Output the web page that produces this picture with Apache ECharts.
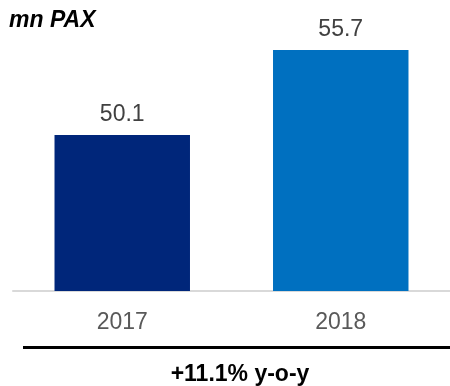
<!DOCTYPE html>
<html>
<head>
<meta charset="utf-8">
<script src="https://cdn.jsdelivr.net/npm/echarts@6/dist/echarts.min.js"></script>
<style>html,body{margin:0;padding:0;background:#fff}#c{width:450px;height:386px}</style>
</head>
<body>
<div id="c"></div>
<script>
var categories = ['2017', '2018'];
var values = [50.1, 55.7];
var barColors = ['#00267A', '#0070C0'];
var unitLabel = 'mn PAX';
var growthLabel = '+11.1% y-o-y';

var chart = echarts.init(document.getElementById('c'), null, {renderer: 'canvas'});
chart.setOption({
  animation: false,
  grid: {left: 13, right: 0, top: 0, bottom: 95, containLabel: false},
  xAxis: {
    type: 'category',
    data: categories,
    axisLine: {lineStyle: {color: '#D9D9D9', width: 2}},
    axisTick: {show: false},
    axisLabel: {color: '#595959', fontSize: 23, fontFamily: 'Liberation Sans', margin: 20}
  },
  yAxis: {
    type: 'value', min: 39.8, max: 59,
    show: false, splitLine: {show: false}
  },
  series: [{
    type: 'bar',
    barWidth: '62%',
    data: values.map(function (v, i) { return {value: v, itemStyle: {color: barColors[i]}}; }),
    label: {
      show: true, position: 'top', distance: 9,
      color: '#404040', fontSize: 23, fontFamily: 'Liberation Sans',
      formatter: function (p) { return p.value.toFixed(1); }
    }
  }],
  graphic: [
    {type: 'text', left: 9, top: 9, style: {text: unitLabel, font: 'italic bold 23px "Liberation Sans"', fill: '#000'}},
    {type: 'line', shape: {x1: 23, y1: 347.5, x2: 450, y2: 347.5}, style: {stroke: '#000', lineWidth: 3}},
    {type: 'text', x: 240, y: 375, style: {text: growthLabel, font: 'bold 23px "Liberation Sans"', fill: '#000', align: 'center', verticalAlign: 'middle'}}
  ]
});
</script>
</body>
</html>
